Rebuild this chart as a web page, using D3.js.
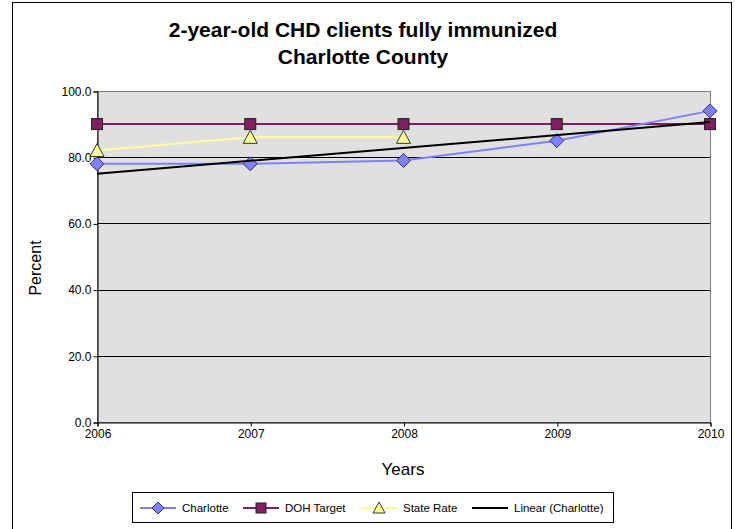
<!DOCTYPE html>
<html>
<head>
<meta charset="utf-8">
<script src="https://cdn.jsdelivr.net/npm/d3@7"></script>
<style>
html,body{margin:0;padding:0;background:#fff;}
svg{display:block;font-family:Arial,"Liberation Sans",sans-serif;}
</style>
</head>
<body>
<svg id="chart" width="735" height="529"></svg>
<script>
const years = [2006, 2007, 2008, 2009, 2010];
const charlotte = [78, 78, 79, 85, 94];
const dohTarget = [90, 90, 90, 90, 90];
const stateRate = [82, 86, 86, null, null];
const yTicks = [0, 20, 40, 60, 80, 100];
const titleLines = ["2-year-old CHD clients fully immunized", "Charlotte County"];
const legendLabels = ["Charlotte", "DOH Target", "State Rate", "Linear (Charlotte)"];

const colors = {charlotte: "#8080FF", doh: "#7F1F5F", state: "#FFFF99", trend: "#000000"};
const FONT = "Arial, 'Liberation Sans', sans-serif";

const svg = d3.select("#chart");
const plot = {left: 97, right: 710, top: 91, bottom: 422};

// outer border
svg.append("rect").attr("x", 12.5).attr("y", 2.5).attr("width", 719).attr("height", 540)
  .attr("fill", "#fff").attr("stroke", "#000").attr("stroke-width", 1);

const x = d3.scaleLinear().domain([2006, 2010]).range([plot.left, plot.right]);
const y = d3.scaleLinear().domain([0, 100]).range([plot.bottom, plot.top]);

// plot background
svg.append("rect").attr("x", plot.left).attr("y", plot.top)
  .attr("width", plot.right - plot.left).attr("height", plot.bottom - plot.top)
  .attr("fill", "#E0E0E0");

// gridlines
svg.append("g").selectAll("line").data(yTicks.filter(d => d > 0 && d < 100)).join("line")
  .attr("x1", plot.left).attr("x2", plot.right)
  .attr("y1", d => Math.round(y(d)) + 0.5).attr("y2", d => Math.round(y(d)) + 0.5)
  .attr("stroke", "#000").attr("stroke-width", 1);

// plot border
svg.append("rect").attr("x", plot.left + 0.5).attr("y", plot.top + 0.5)
  .attr("width", plot.right - plot.left).attr("height", plot.bottom - plot.top)
  .attr("fill", "none").attr("stroke", "#808080").attr("stroke-width", 1);

// axes
const yAxis = d3.axisLeft(y).tickValues(yTicks).tickFormat(d3.format(".1f")).tickSize(4).tickPadding(2);
const gy = svg.append("g").attr("transform", `translate(${plot.left + 0.5},0.5)`).call(yAxis);
gy.select(".domain").attr("stroke", "#000");
gy.selectAll(".tick line").attr("stroke", "#000");
gy.selectAll("text").attr("font-size", 12).attr("fill", "#000").attr("font-family", FONT);

const xAxis = d3.axisBottom(x).tickValues(years).tickFormat(d3.format("d")).tickSize(4).tickPadding(3);
const gx = svg.append("g").attr("transform", `translate(0.5,${plot.bottom + 0.5})`).call(xAxis);
gx.select(".domain").attr("stroke", "#000");
gx.selectAll(".tick line").attr("stroke", "#000");
gx.selectAll("text").attr("font-size", 12).attr("fill", "#000").attr("font-family", FONT);

// linear trend from charlotte data
const n = years.length;
const mx = d3.mean(years), my = d3.mean(charlotte);
const slope = d3.sum(years.map((yr, i) => (yr - mx) * (charlotte[i] - my))) / d3.sum(years.map(yr => (yr - mx) ** 2));
const icpt = my - slope * mx;
const trend = [years[0], years[n - 1]].map(yr => [yr, icpt + slope * yr]);

const line = d3.line().defined(d => d[1] != null).x(d => x(d[0])).y(d => y(d[1]));

svg.append("path").datum(years.map((yr, i) => [yr, dohTarget[i]])).attr("d", line)
  .attr("fill", "none").attr("stroke", colors.doh).attr("stroke-width", 2);
svg.append("path").datum(years.map((yr, i) => [yr, stateRate[i]])).attr("d", line)
  .attr("fill", "none").attr("stroke", colors.state).attr("stroke-width", 2);
svg.append("path").datum(years.map((yr, i) => [yr, charlotte[i]])).attr("d", line)
  .attr("fill", "none").attr("stroke", colors.charlotte).attr("stroke-width", 2);

// markers
function diamond(g, cx, cy, s) {
  g.append("path").attr("d", `M${cx},${cy - s}L${cx + s},${cy}L${cx},${cy + s}L${cx - s},${cy}Z`)
    .attr("fill", colors.charlotte).attr("stroke", "#333366").attr("stroke-width", 1);
}
function square(g, cx, cy, s) {
  g.append("rect").attr("x", cx - s).attr("y", cy - s).attr("width", 2 * s).attr("height", 2 * s)
    .attr("fill", colors.doh).attr("stroke", "#222").attr("stroke-width", 1);
}
function triangle(g, cx, cy, s) {
  g.append("path").attr("d", `M${cx},${cy - s - 1}L${cx + s + 1},${cy + s}L${cx - s - 1},${cy + s}Z`)
    .attr("fill", colors.state).attr("stroke", "#333").attr("stroke-width", 1);
}
const mg = svg.append("g");
years.forEach((yr, i) => square(mg, x(yr), y(dohTarget[i]), 5.5));
years.forEach((yr, i) => { if (stateRate[i] != null) triangle(mg, x(yr), y(stateRate[i]), 6); });

svg.append("path").datum(trend).attr("d", line)
  .attr("fill", "none").attr("stroke", colors.trend).attr("stroke-width", 2);
years.forEach((yr, i) => diamond(mg, x(yr), y(charlotte[i]), 7));

// titles
const t = svg.append("text").attr("text-anchor", "middle").attr("font-weight", "bold")
  .attr("font-size", 21).attr("fill", "#000");
titleLines.forEach((s, i) => t.append("tspan").attr("x", 363).attr("y", 37 + i * 27).text(s));

svg.append("text").attr("transform", "translate(41,268) rotate(-90)").attr("text-anchor", "middle")
  .attr("font-size", 16).attr("fill", "#000").text("Percent");
svg.append("text").attr("x", 403).attr("y", 475).attr("text-anchor", "middle")
  .attr("font-size", 17).attr("fill", "#000").text("Years");

// legend
const lg = svg.append("g");
lg.append("rect").attr("x", 132.5).attr("y", 492.5).attr("width", 481).attr("height", 30)
  .attr("fill", "#fff").attr("stroke", "#000").attr("stroke-width", 1);
const items = [
  {x: 140, color: colors.charlotte, mark: diamond, ms: 6},
  {x: 243, color: colors.doh, mark: square, ms: 5},
  {x: 361, color: colors.state, mark: triangle, ms: 5},
  {x: 472, color: colors.trend, mark: null}
];
items.forEach((it, i) => {
  const cy = 508;
  lg.append("line").attr("x1", it.x).attr("x2", it.x + 36).attr("y1", cy).attr("y2", cy)
    .attr("stroke", it.color).attr("stroke-width", 2);
  if (it.mark) it.mark(lg, it.x + 18, cy, it.ms);
  lg.append("text").attr("x", it.x + 42).attr("y", cy + 4).attr("font-size", 11.5).attr("fill", "#000")
    .text(legendLabels[i]);
});
</script>
</body>
</html>
